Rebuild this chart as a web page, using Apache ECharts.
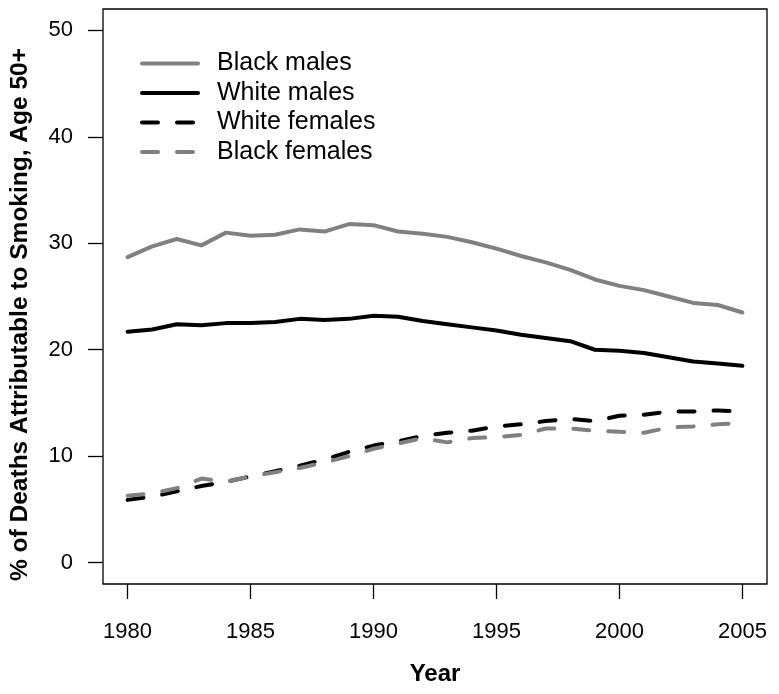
<!DOCTYPE html>
<html>
<head>
<meta charset="utf-8">
<script src="https://cdn.jsdelivr.net/npm/echarts@6/dist/echarts.min.js"></script>
<style>html,body{margin:0;padding:0;background:#fff;}#c{width:779px;height:694px;}</style>
</head>
<body>
<div id="c"></div>
<script>
const years = [1980,1981,1982,1983,1984,1985,1986,1987,1988,1989,1990,1991,1992,1993,1994,1995,1996,1997,1998,1999,2000,2001,2002,2003,2004,2005];
const blackMales   = [28.7,29.7,30.4,29.8,31.0,30.7,30.8,31.3,31.1,31.8,31.7,31.1,30.9,30.6,30.1,29.5,28.8,28.2,27.5,26.6,26.0,25.6,25.0,24.4,24.2,23.5];
const whiteMales   = [21.7,21.9,22.4,22.3,22.5,22.5,22.6,22.9,22.8,22.9,23.2,23.1,22.7,22.4,22.1,21.8,21.4,21.1,20.8,20.0,19.9,19.7,19.3,18.9,18.7,18.5];
const whiteFemales = [5.9,6.2,6.7,7.2,7.6,8.1,8.6,9.1,9.7,10.4,11.0,11.4,11.9,12.2,12.4,12.8,13.0,13.3,13.5,13.3,13.8,13.9,14.2,14.2,14.3,14.2];
const blackFemales = [6.3,6.5,7.0,7.9,7.6,8.1,8.5,8.9,9.4,10.0,10.7,11.2,11.7,11.3,11.7,11.8,12.0,12.6,12.6,12.4,12.3,12.2,12.7,12.8,13.0,13.1];
const xTicks = [1980,1985,1990,1995,2000,2005];
const yTicks = [0,10,20,30,40,50];

const F = '"Liberation Sans", Arial, Helvetica, sans-serif';
const GRAY = '#808080';
function pairs(vals){ return years.map((y,i)=>[y, vals[i]]); }
function ser(name, vals, color, dashed){
  return {
    name, type:'line', data: pairs(vals), symbol:'none', animation:false,
    lineStyle:{ color, width:4, type: dashed ? [16,19] : 'solid', cap:'round', join:'round' },
    itemStyle:{ color }
  };
}
const chart = echarts.init(document.getElementById('c'), null, {renderer:'canvas'});
chart.setOption({
  backgroundColor:'#fff',
  animation:false,
  grid:{ left:103, right:12, top:9, bottom:110, show:true, borderColor:'#000', borderWidth:1.3, backgroundColor:'transparent' },
  legend:{
    orient:'vertical', left:140, top:51, padding:0, itemWidth:56, itemHeight:14, itemGap:4.5,
    data:['Black males','White males','White females','Black females'],
    itemStyle:{ opacity:0 },
    lineStyle:{ width:4 },
    textStyle:{ fontFamily:F, fontSize:25, color:'#000', lineHeight:25, padding:[0,0,0,14] },
    selectedMode:false
  },
  xAxis:{
    type:'value', min:1979, max:2006,
    name:'Year', nameLocation:'middle', nameGap:78,
    nameTextStyle:{ fontFamily:F, fontSize:24, fontWeight:'bold', color:'#000' },
    axisLine:{ show:false, onZero:false },
    axisTick:{ show:true, length:15, inside:false, customValues:xTicks, lineStyle:{ color:'#000', width:1.3 } },
    axisLabel:{ customValues:xTicks, margin:37, fontFamily:F, fontSize:22, color:'#000', formatter:v=>String(v) },
    splitLine:{ show:false }
  },
  yAxis:{
    type:'value', min:-2, max:52,
    name:'% of Deaths Attributable to Smoking, Age 50+', nameLocation:'middle', nameGap:70,
    nameTextStyle:{ fontFamily:F, fontSize:24.5, fontWeight:'bold', color:'#000', padding:[0,36,0,0] },
    axisLine:{ show:false, onZero:false },
    axisTick:{ show:true, length:15, inside:false, customValues:yTicks, lineStyle:{ color:'#000', width:1.3 } },
    axisLabel:{ customValues:yTicks, margin:30, fontFamily:F, fontSize:22, color:'#000' },
    splitLine:{ show:false }
  },
  series:[
    ser('Black males', blackMales, GRAY, false),
    ser('White males', whiteMales, '#000', false),
    ser('White females', whiteFemales, '#000', true),
    ser('Black females', blackFemales, GRAY, true)
  ]
});
</script>
</body>
</html>
